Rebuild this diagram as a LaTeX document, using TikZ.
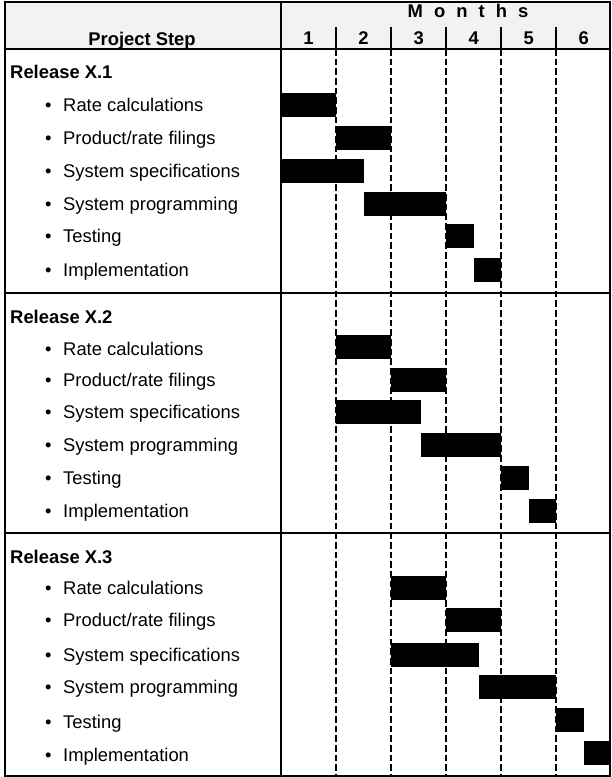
\documentclass[tikz,border=0pt]{standalone}
\usepackage{fontspec}
\setmainfont{Liberation Sans}
\newcommand{\mw}{55.05}
\begin{document}
\begin{tikzpicture}[x=0.3mm,y=-0.3mm,
	frame/.style={line width=0.55mm},
	monthline/.style={line width=0.55mm,dash pattern=on 2mm off 0.9mm},
	ganttbar/.style={fill=black},
	releaselabel/.style={anchor=base west,inner sep=0pt,font=\fontsize{15.7}{18}\selectfont\bfseries},
	tasklabel/.style={anchor=base west,inner sep=0pt,font=\fontsize{15.7}{18}\selectfont},
	headlabel/.style={anchor=base,inner sep=0pt,font=\fontsize{15.7}{18}\selectfont\bfseries}]
	\useasboundingbox (0,0) rectangle (611,777);
	% header
	\fill[gray!10] (5,2) rectangle (610,49);
	\node[headlabel] (projstep) at (142,46) {Project Step};
	\node[headlabel] (months) at (468,18) {\addfontfeature{LetterSpace=60}Months};
	\foreach \k in {1,...,6}
		\node[headlabel] (m\k) at ({281+(\k-0.5)*\mw},44) {\k};
	\foreach \k in {1,...,5}
		\draw[frame] ({281+\k*\mw},27) -- ({281+\k*\mw},49);
	% grid
	\foreach \k in {1,...,5}
		\draw[monthline] ({281+\k*\mw},49) -- ({281+\k*\mw},776);
	\draw[frame] (5,2) rectangle (610,776);
	\draw[frame] (281,2) -- (281,776);
	\draw[frame] (5,49) -- (610,49);
	\draw[frame] (5,293) -- (610,293);
	\draw[frame] (5,533) -- (610,533);
	% release X.1
	\node[releaselabel] (rel1) at (10,78.5) {Release X.1};
	\node[tasklabel] (r1rate) at (45,111.5) {\makebox[5.4mm][l]{\textbullet}Rate calculations};
	\node[tasklabel] (r1filing) at (45,144.5) {\makebox[5.4mm][l]{\textbullet}Product/rate filings};
	\node[tasklabel] (r1spec) at (45,177.5) {\makebox[5.4mm][l]{\textbullet}System specifications};
	\node[tasklabel] (r1prog) at (45,210.5) {\makebox[5.4mm][l]{\textbullet}System programming};
	\node[tasklabel] (r1test) at (45,242.5) {\makebox[5.4mm][l]{\textbullet}Testing};
	\node[tasklabel] (r1impl) at (45,276.5) {\makebox[5.4mm][l]{\textbullet}Implementation};
	% release X.2
	\node[releaselabel] (rel2) at (10,323.5) {Release X.2};
	\node[tasklabel] (r2rate) at (45,355.5) {\makebox[5.4mm][l]{\textbullet}Rate calculations};
	\node[tasklabel] (r2filing) at (45,386.5) {\makebox[5.4mm][l]{\textbullet}Product/rate filings};
	\node[tasklabel] (r2spec) at (45,418.5) {\makebox[5.4mm][l]{\textbullet}System specifications};
	\node[tasklabel] (r2prog) at (45,451.5) {\makebox[5.4mm][l]{\textbullet}System programming};
	\node[tasklabel] (r2test) at (45,484.5) {\makebox[5.4mm][l]{\textbullet}Testing};
	\node[tasklabel] (r2impl) at (45,517.5) {\makebox[5.4mm][l]{\textbullet}Implementation};
	% release X.3
	\node[releaselabel] (rel3) at (10,563.5) {Release X.3};
	\node[tasklabel] (r3rate) at (45,594.5) {\makebox[5.4mm][l]{\textbullet}Rate calculations};
	\node[tasklabel] (r3filing) at (45,626.5) {\makebox[5.4mm][l]{\textbullet}Product/rate filings};
	\node[tasklabel] (r3spec) at (45,661.5) {\makebox[5.4mm][l]{\textbullet}System specifications};
	\node[tasklabel] (r3prog) at (45,693.5) {\makebox[5.4mm][l]{\textbullet}System programming};
	\node[tasklabel] (r3test) at (45,728.5) {\makebox[5.4mm][l]{\textbullet}Testing};
	\node[tasklabel] (r3impl) at (45,761.5) {\makebox[5.4mm][l]{\textbullet}Implementation};
	% bars: start/end month, row centre
	\foreach \a/\b/\y in {0/1/105, 1/2/138, 0/1.5/171, 1.5/3/204, 3/3.5/236, 3.5/4/270,
			1/2/347, 2/3/380, 1/2.55/412, 2.55/4/445, 4/4.5/478, 4.5/5/511,
			2/3/588, 3/4/620, 2/3.6/655, 3.6/5/687, 5/5.5/720, 5.5/6/753}
		\fill[ganttbar] ({281+\a*\mw},{\y-12}) rectangle ({281+\b*\mw},{\y+12});
\end{tikzpicture}
\end{document}
